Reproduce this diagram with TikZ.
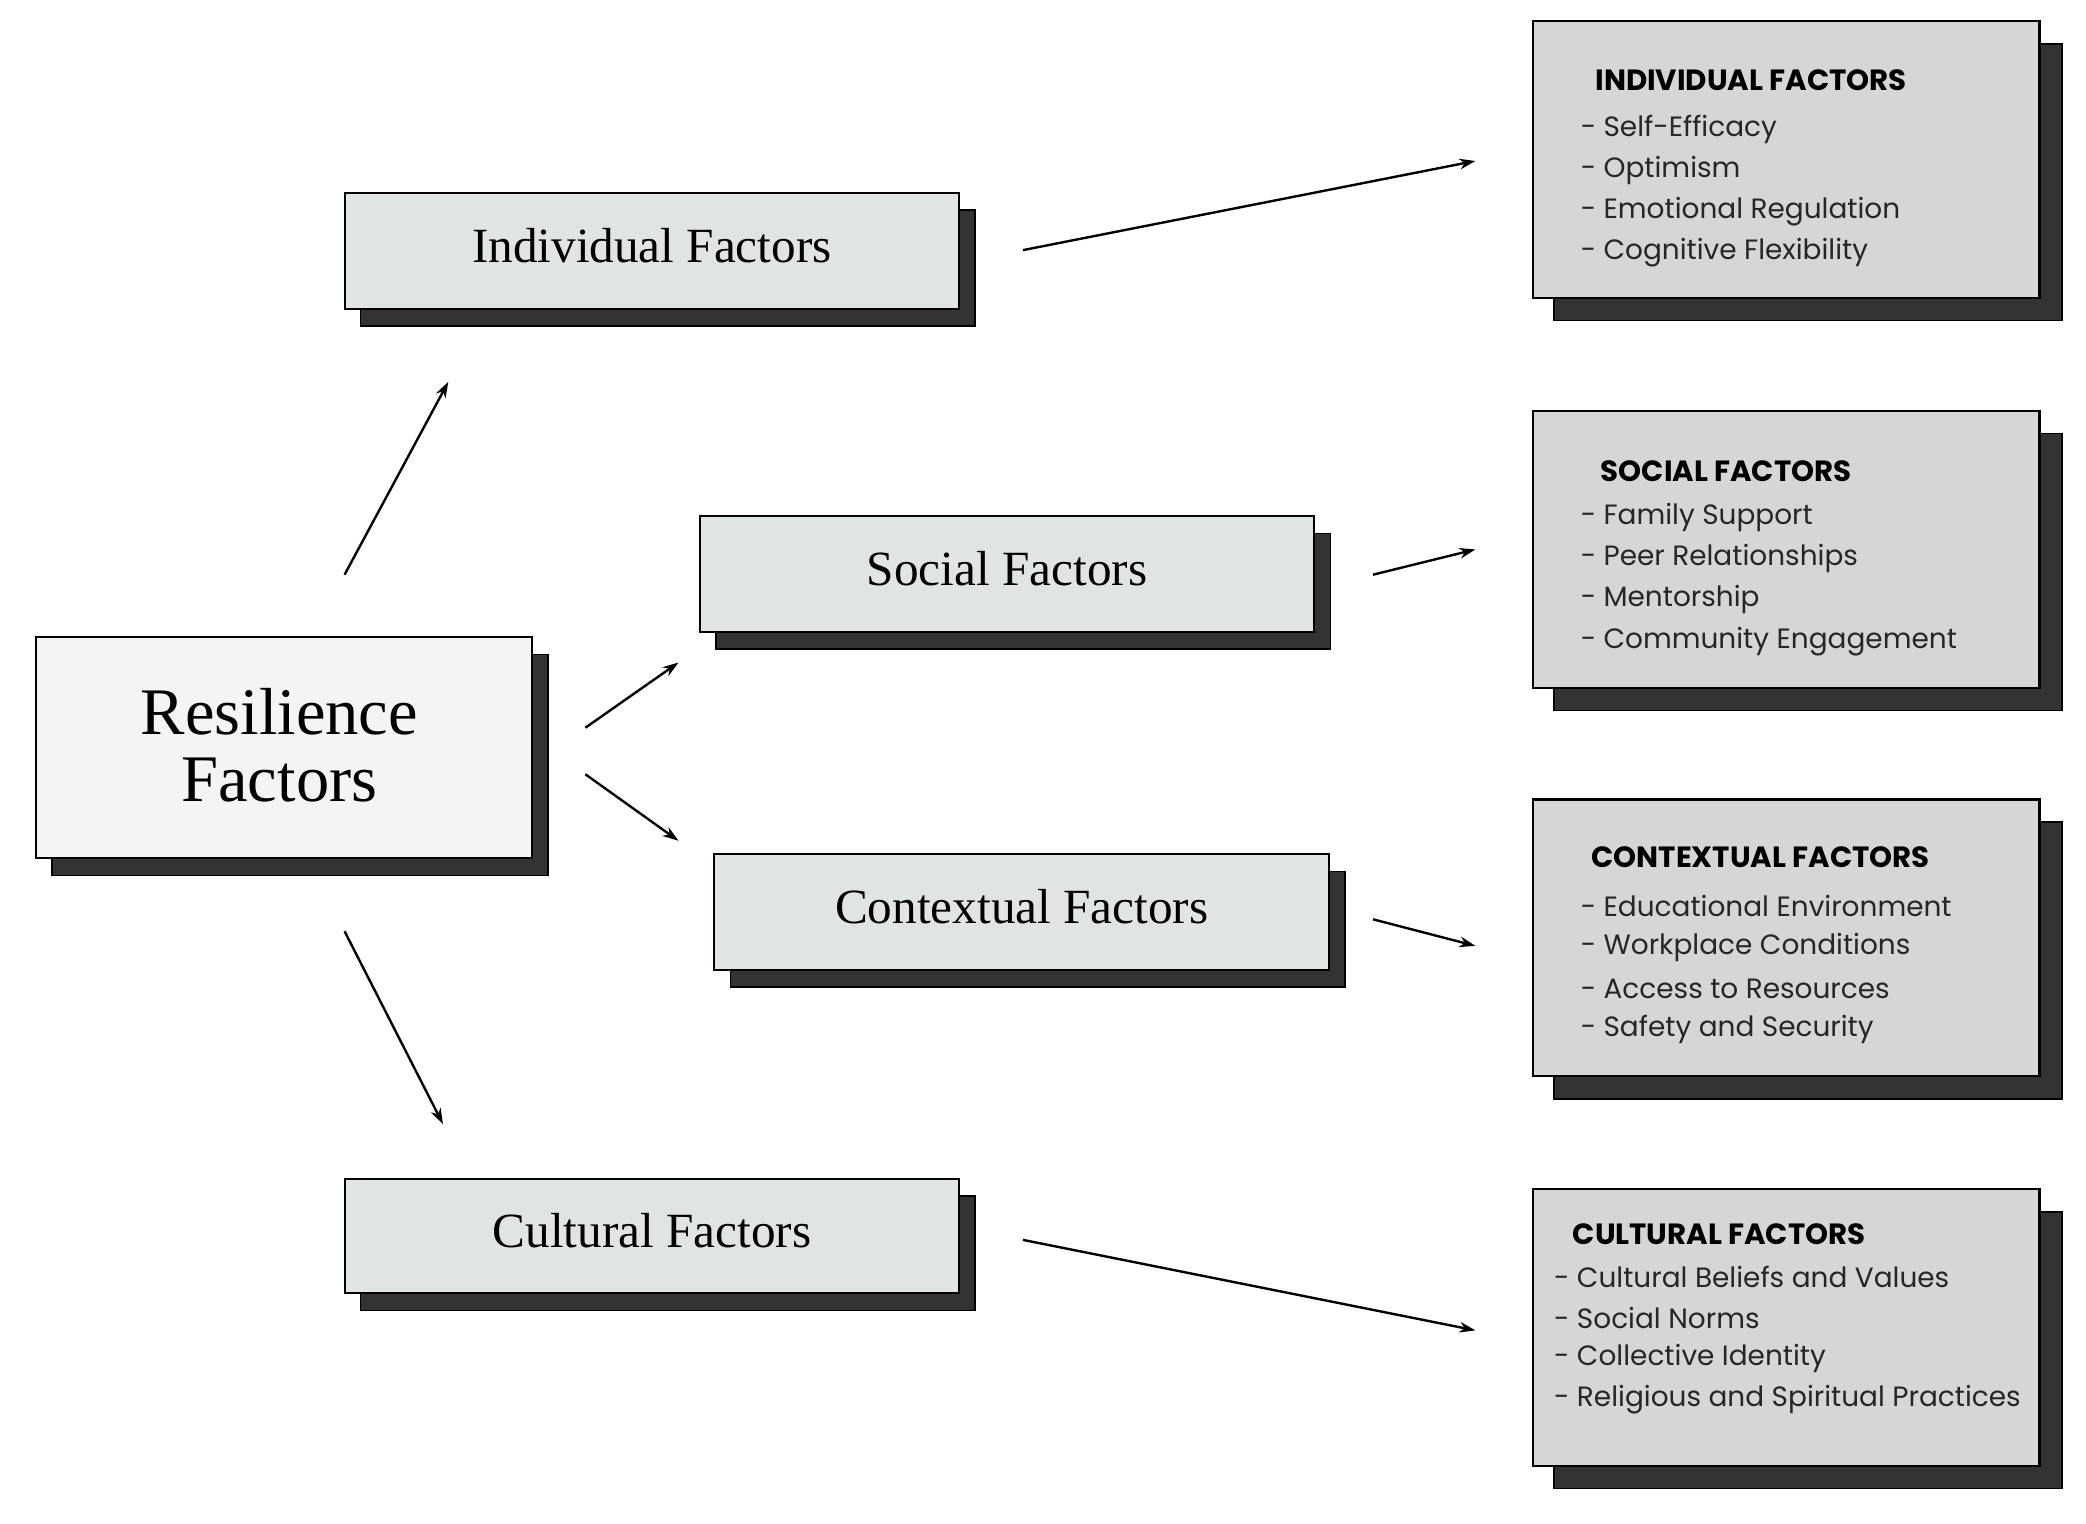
\documentclass[tikz,border=0pt]{standalone}
\usepackage{fontspec}
\setmainfont{Liberation Serif}
\newfontfamily\pop{Poppins}
\definecolor{mid}{HTML}{E0E5E3}
\definecolor{lite}{HTML}{F3F5F4}
\definecolor{rgt}{HTML}{D6D6D6}
\definecolor{shd}{HTML}{333333}
\usetikzlibrary{arrows.meta}
\tikzset{x=1pt,y=-1pt,
 shbox/.style={fill=shd,draw=black,line width=1.2pt},
 fbox/.style={draw=black,line width=1.6pt},
 arr/.style={-{Stealth[length=12pt,width=8pt]},line width=1.8pt},
 lab/.style={font=\fontsize{37}{40}\selectfont},
 itm/.style={anchor=west,inner sep=0pt,font=\pop\fontsize{21}{24}\selectfont,text=black!85},
 hd/.style={anchor=west,inner sep=0pt,font=\pop\bfseries\fontsize{22}{24}\selectfont}}
\newcommand{\shbx}[7]{% name x1 y1 x2 y2 fill text
 \fill[shbox] (#2+12,#3+13) rectangle (#4+12,#5+13);
 \draw[fbox,fill=#6] (#2,#3) rectangle (#4,#5);
 \node[lab] (#1) at ({(#2+#4)/2},{(#3+#5)/2-4}) {#7};}
\begin{document}
\begin{tikzpicture}
\useasboundingbox[fill=white] (0,0) rectangle (1568,1145);
\shbx{res}{27}{479}{400}{645}{lite}{}
\node[font=\fontsize{50}{50}\selectfont,align=center] (resl) at (210,560) {Resilience\\Factors};
\shbx{ind}{259}{145}{721}{232}{mid}{Individual Factors}
\shbx{soc}{526}{388}{988}{475}{mid}{Social Factors}
\shbx{con}{537}{642}{999}{729}{mid}{Contextual Factors}
\shbx{cul}{259}{886}{721}{972}{mid}{Cultural Factors}
\foreach \t/\b/\n in {16/224/a,309/517/b,601/809/c,894/1102/d}{
 \fill[shbox] (1168,\t+17) rectangle (1550,\b+17);
 \draw[fbox,fill=rgt] (1152,\t) rectangle (1533,\b);}
\node[hd] (h1) at (1199,60) {INDIVIDUAL FACTORS};
\node[itm] (i11) at (1188,97) {- Self-Efficacy};
\node[itm] (i12) at (1188,128) {- Optimism};
\node[itm] (i13) at (1188,159) {- Emotional Regulation};
\node[itm] (i14) at (1188,190) {- Cognitive Flexibility};
\node[hd] (h2) at (1203,354) {SOCIAL FACTORS};
\node[itm] (i21) at (1188,389) {- Family Support};
\node[itm] (i22) at (1188,420) {- Peer Relationships};
\node[itm] (i23) at (1188,451) {- Mentorship};
\node[itm] (i24) at (1188,482) {- Community Engagement};
\node[hd] (h3) at (1196,644) {CONTEXTUAL FACTORS};
\node[itm] (i31) at (1188,681) {- Educational Environment};
\node[itm] (i32) at (1188,712) {- Workplace Conditions};
\node[itm] (i33) at (1188,743) {- Access to Resources};
\node[itm] (i34) at (1188,774) {- Safety and Security};
\node[hd] (h4) at (1182,928) {CULTURAL FACTORS};
\node[itm] (i41) at (1168,960) {- Cultural Beliefs and Values};
\node[itm] (i42) at (1168,991) {- Social Norms};
\node[itm] (i43) at (1168,1021) {- Collective Identity};
\node[itm] (i44) at (1168,1052) {- Religious and Spiritual Practices};
\foreach \n/\x/\y in {a1/259/432,a2/337/287,b1/440/547,b2/510/498,c1/440/582,c2/510/632,d1/259/700,d2/333/845,
 e1/769/188,e2/1109/121,f1/1032/432,f2/1109/413,g1/1032/691,g2/1109/711,h1a/769/932,h2a/1109/1000}
 \coordinate (\n) at (\x,\y);
\draw[arr] (a1)--(a2); \draw[arr] (b1)--(b2); \draw[arr] (c1)--(c2); \draw[arr] (d1)--(d2);
\draw[arr] (e1)--(e2); \draw[arr] (f1)--(f2); \draw[arr] (g1)--(g2); \draw[arr] (h1a)--(h2a);
\end{tikzpicture}
\end{document}
